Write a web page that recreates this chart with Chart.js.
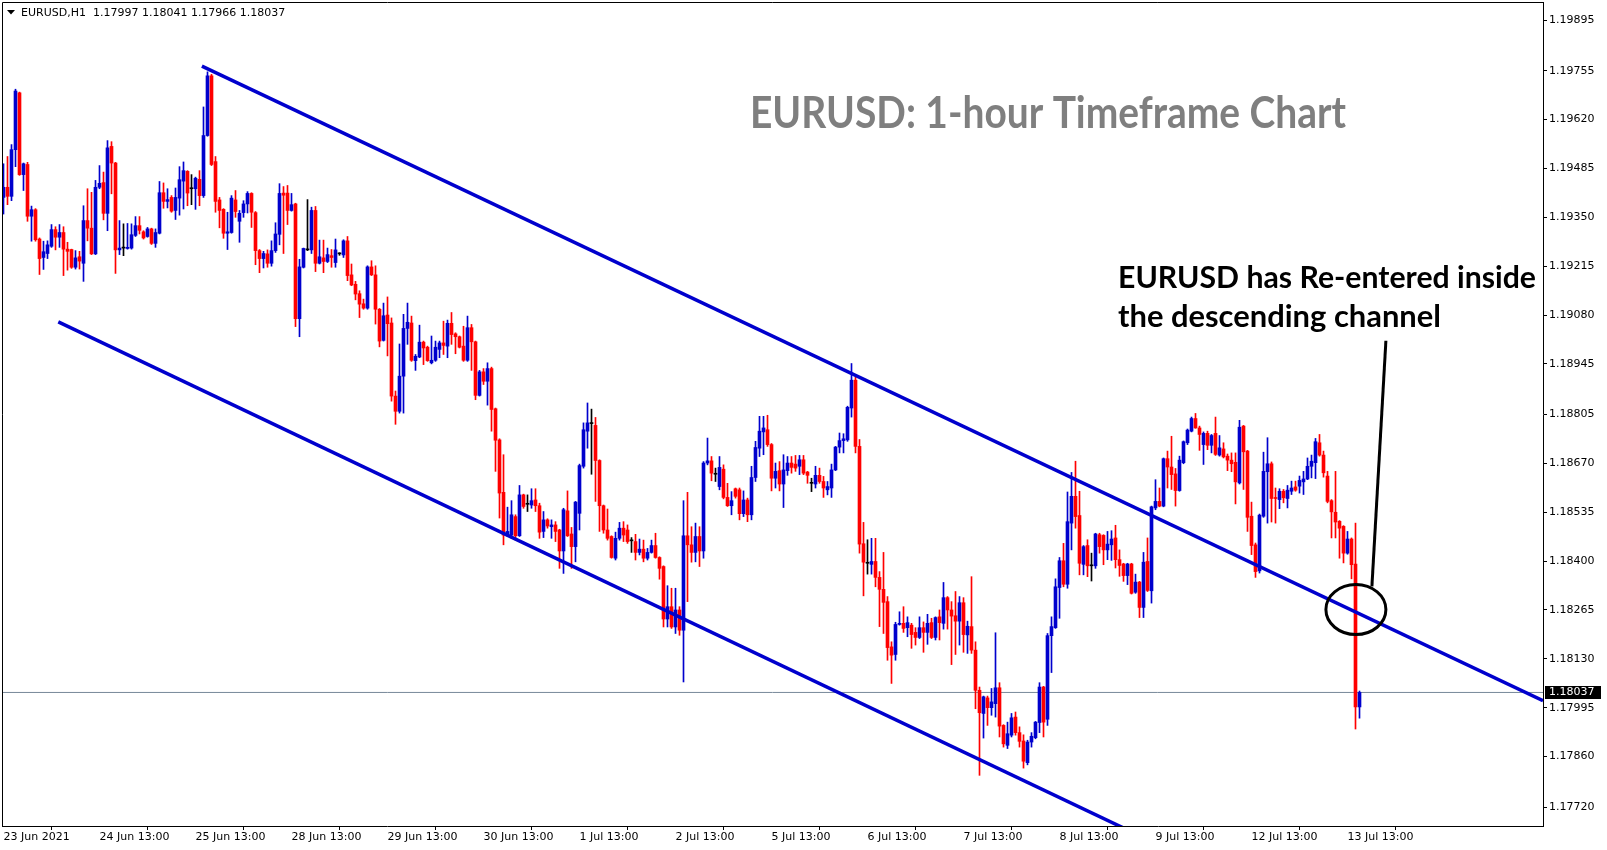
<!DOCTYPE html>
<html>
<head>
<meta charset="utf-8">
<script src="https://cdn.jsdelivr.net/npm/chart.js@4.4.0/dist/chart.umd.min.js"></script>
<style>
  html, body { margin: 0; padding: 0; background: #fff; }
  canvas { display: block; }
</style>
</head>
<body>
<canvas id="chart" width="1607" height="850"></canvas>
<script>
// EURUSD H1, 23 Jun 2021 13:00 .. 13 Jul 2021 16:00 (one bar per hour, weekends skipped)
const symbol = 'EURUSD,H1';
const title = 'EURUSD: 1-hour Timeframe Chart';
const note = ['EURUSD has Re-entered inside', 'the descending channel'];

const xLabels = ['23 Jun 2021', '24 Jun 13:00', '25 Jun 13:00', '28 Jun 13:00', '29 Jun 13:00',
  '30 Jun 13:00', '1 Jul 13:00', '2 Jul 13:00', '5 Jul 13:00', '6 Jul 13:00', '7 Jul 13:00',
  '8 Jul 13:00', '9 Jul 13:00', '12 Jul 13:00', '13 Jul 13:00'];
const barsPerLabel = 24;

const yTicks = [1.19895, 1.19755, 1.19620, 1.19485, 1.19350, 1.19215, 1.19080, 1.18945, 1.18805,
  1.18670, 1.18535, 1.18400, 1.18265, 1.18130, 1.17995, 1.17860, 1.17720];

const opens = [
  1.19405,1.19433,1.19408,1.19537,1.19694,1.19468,1.19496,1.19353,1.19371,1.19290,
  1.19239,1.19250,1.19270,1.19316,1.19295,1.19308,1.19262,1.19261,1.19212,1.19241,
  1.19223,1.19341,1.19320,1.19249,1.19433,1.19446,1.19361,1.19546,1.19500,1.19260,
  1.19265,1.19264,1.19265,1.19300,1.19327,1.19310,1.19297,1.19318,1.19278,1.19306,
  1.19418,1.19394,1.19405,1.19369,1.19403,1.19450,1.19477,1.19429,1.19429,1.19455,
  1.19410,1.19576,1.19741,1.19504,1.19398,1.19372,1.19306,1.19308,1.19398,1.19339,
  1.19363,1.19387,1.19416,1.19363,1.19258,1.19236,1.19249,1.19223,1.19258,1.19303,
  1.19417,1.19417,1.19369,1.19387,1.19070,1.19212,1.19260,1.19260,1.19369,1.19223,
  1.19238,1.19228,1.19244,1.19225,1.19249,1.19246,1.19285,1.19191,1.19165,1.19139,
  1.19111,1.19099,1.19213,1.19191,1.19096,1.19010,1.19080,1.19058,1.18856,1.18814,
  1.18911,1.19043,1.19058,1.18954,1.18964,1.19005,1.18991,1.18948,1.18955,1.18985,
  1.19003,1.18994,1.19057,1.19028,1.19020,1.18994,1.18955,1.19045,1.19006,1.18858,
  1.18923,1.18897,1.18932,1.18821,1.18735,1.18590,1.18472,1.18472,1.18523,1.18470,
  1.18583,1.18557,1.18555,1.18569,1.18553,1.18482,1.18514,1.18495,1.18500,1.18486,
  1.18428,1.18539,1.18475,1.18440,1.18532,1.18662,1.18759,1.18780,1.18775,1.18678,
  1.18553,1.18486,1.18468,1.18408,1.18463,1.18491,1.18486,1.18456,1.18454,1.18424,
  1.18433,1.18408,1.18424,1.18443,1.18410,1.18385,1.18240,1.18274,1.18218,1.18265,
  1.18209,1.18470,1.18445,1.18424,1.18468,1.18428,1.18671,1.18677,1.18640,1.18606,
  1.18654,1.18576,1.18553,1.18600,1.18597,1.18531,1.18569,1.18528,1.18631,1.18712,
  1.18757,1.18763,1.18722,1.18629,1.18650,1.18613,1.18650,1.18671,1.18668,1.18662,
  1.18680,1.18646,1.18615,1.18613,1.18637,1.18620,1.18597,1.18602,1.18652,1.18715,
  1.18733,1.18735,1.18823,1.18900,1.18717,1.18448,1.18394,1.18391,1.18399,1.18355,
  1.18322,1.18288,1.18163,1.18142,1.18225,1.18228,1.18216,1.18223,1.18203,1.18189,
  1.18216,1.18203,1.18230,1.18189,1.18246,1.18228,1.18299,1.18265,1.18249,1.18234,
  1.18285,1.18196,1.18219,1.18154,1.18043,1.17979,1.18022,1.17995,1.18006,1.18050,
  1.17946,1.17891,1.17919,1.17969,1.17926,1.17903,1.17843,1.17900,1.17912,1.17954,
  1.18052,1.17963,1.18194,1.18216,1.18327,1.18401,1.18336,1.18505,1.18579,1.18526,
  1.18391,1.18443,1.18387,1.18387,1.18473,1.18471,1.18431,1.18445,1.18464,1.18404,
  1.18392,1.18360,1.18392,1.18314,1.18342,1.18272,1.18399,1.18318,1.18547,1.18565,
  1.18552,1.18683,1.18660,1.18641,1.18595,1.18672,1.18727,1.18759,1.18794,1.18768,
  1.18722,1.18753,1.18720,1.18753,1.18693,1.18710,1.18690,1.18679,1.18673,1.18616,
  1.18773,1.18704,1.18524,1.18445,1.18373,1.18524,1.18647,1.18669,1.18575,1.18570,
  1.18593,1.18573,1.18593,1.18605,1.18607,1.18619,1.18627,1.18662,1.18672,1.18727,
  1.18693,1.18635,1.18567,1.18535,1.18510,1.18496,1.18422,1.18461,1.18392,1.17997
];
const highs = [
  1.19498,1.19518,1.19551,1.19704,1.19696,1.19500,1.19502,1.19381,1.19374,1.19293,
  1.19284,1.19285,1.19330,1.19324,1.19330,1.19324,1.19281,1.19262,1.19258,1.19256,
  1.19382,1.19429,1.19419,1.19452,1.19493,1.19475,1.19562,1.19559,1.19502,1.19341,
  1.19332,1.19333,1.19332,1.19352,1.19352,1.19313,1.19322,1.19320,1.19318,1.19449,
  1.19445,1.19429,1.19410,1.19431,1.19490,1.19503,1.19479,1.19468,1.19461,1.19479,
  1.19655,1.19752,1.19745,1.19518,1.19405,1.19374,1.19364,1.19410,1.19424,1.19369,
  1.19396,1.19421,1.19418,1.19366,1.19261,1.19256,1.19260,1.19285,1.19335,1.19443,
  1.19435,1.19438,1.19416,1.19389,1.19234,1.19265,1.19399,1.19378,1.19380,1.19287,
  1.19287,1.19265,1.19261,1.19290,1.19252,1.19288,1.19297,1.19221,1.19173,1.19147,
  1.19124,1.19216,1.19230,1.19216,1.19098,1.19113,1.19130,1.19072,1.18870,1.19000,
  1.19082,1.19113,1.19077,1.18971,1.19052,1.19008,1.18994,1.19022,1.19008,1.19008,
  1.19063,1.19066,1.19087,1.19031,1.19022,1.19049,1.19077,1.19054,1.19008,1.18927,
  1.18932,1.18948,1.18936,1.18823,1.18738,1.18694,1.18549,1.18567,1.18528,1.18609,
  1.18585,1.18583,1.18600,1.18600,1.18560,1.18537,1.18517,1.18514,1.18509,1.18488,
  1.18546,1.18594,1.18493,1.18565,1.18668,1.18782,1.18837,1.18820,1.18797,1.18680,
  1.18555,1.18544,1.18470,1.18480,1.18507,1.18509,1.18500,1.18465,1.18474,1.18461,
  1.18458,1.18435,1.18458,1.18477,1.18412,1.18387,1.18332,1.18325,1.18325,1.18274,
  1.18567,1.18590,1.18495,1.18505,1.18495,1.18675,1.18740,1.18689,1.18657,1.18689,
  1.18666,1.18615,1.18592,1.18602,1.18602,1.18594,1.18574,1.18662,1.18731,1.18800,
  1.18800,1.18803,1.18725,1.18671,1.18675,1.18694,1.18689,1.18689,1.18692,1.18692,
  1.18692,1.18648,1.18629,1.18662,1.18657,1.18634,1.18620,1.18668,1.18717,1.18754,
  1.18752,1.18828,1.18946,1.18908,1.18736,1.18507,1.18459,1.18463,1.18463,1.18371,
  1.18424,1.18302,1.18177,1.18231,1.18260,1.18274,1.18246,1.18228,1.18216,1.18246,
  1.18232,1.18253,1.18242,1.18246,1.18265,1.18341,1.18302,1.18288,1.18316,1.18302,
  1.18299,1.18234,1.18357,1.18177,1.18052,1.18027,1.18027,1.18048,1.18202,1.18064,
  1.17948,1.17955,1.17979,1.17983,1.17942,1.17920,1.17905,1.17926,1.17957,1.18064,
  1.18054,1.18200,1.18246,1.18351,1.18410,1.18449,1.18591,1.18645,1.18676,1.18593,
  1.18443,1.18459,1.18422,1.18477,1.18477,1.18473,1.18482,1.18484,1.18499,1.18431,
  1.18394,1.18394,1.18394,1.18364,1.18344,1.18424,1.18464,1.18552,1.18625,1.18602,
  1.18685,1.18704,1.18745,1.18656,1.18690,1.18732,1.18765,1.18798,1.18808,1.18773,
  1.18757,1.18759,1.18750,1.18798,1.18747,1.18727,1.18696,1.18699,1.18699,1.18789,
  1.18775,1.18706,1.18563,1.18450,1.18530,1.18701,1.18741,1.18674,1.18602,1.18600,
  1.18598,1.18609,1.18621,1.18621,1.18635,1.18648,1.18685,1.18693,1.18739,1.18750,
  1.18704,1.18648,1.18570,1.18648,1.18512,1.18498,1.18482,1.18464,1.18505,1.18041
];
const lows = [
  1.19359,1.19385,1.19396,1.19490,1.19466,1.19424,1.19339,1.19284,1.19284,1.19192,
  1.19206,1.19236,1.19267,1.19260,1.19267,1.19189,1.19204,1.19209,1.19207,1.19207,
  1.19173,1.19285,1.19247,1.19247,1.19429,1.19343,1.19313,1.19415,1.19195,1.19247,
  1.19244,1.19262,1.19262,1.19297,1.19304,1.19290,1.19295,1.19275,1.19267,1.19304,
  1.19375,1.19376,1.19364,1.19344,1.19356,1.19373,1.19382,1.19385,1.19372,1.19382,
  1.19405,1.19574,1.19493,1.19364,1.19321,1.19292,1.19261,1.19306,1.19350,1.19281,
  1.19350,1.19362,1.19322,1.19219,1.19197,1.19210,1.19212,1.19215,1.19253,1.19274,
  1.19250,1.19330,1.19367,1.19048,1.19020,1.19210,1.19258,1.19250,1.19200,1.19221,
  1.19197,1.19225,1.19212,1.19212,1.19245,1.19239,1.19175,1.19161,1.19122,1.19073,
  1.19096,1.19096,1.19189,1.19055,1.18992,1.19008,1.18967,1.18842,1.18778,1.18809,
  1.18809,1.18999,1.18952,1.18927,1.18962,1.18943,1.18952,1.18945,1.18952,1.18962,
  1.18971,1.18962,1.18999,1.18973,1.18989,1.18952,1.18952,1.18927,1.18846,1.18856,
  1.18888,1.18831,1.18759,1.18648,1.18519,1.18445,1.18468,1.18463,1.18458,1.18468,
  1.18546,1.18537,1.18546,1.18537,1.18463,1.18465,1.18491,1.18463,1.18454,1.18380,
  1.18366,1.18468,1.18380,1.18398,1.18486,1.18657,1.18712,1.18640,1.18565,1.18482,
  1.18477,1.18458,1.18408,1.18403,1.18458,1.18454,1.18449,1.18424,1.18403,1.18417,
  1.18398,1.18403,1.18422,1.18408,1.18350,1.18218,1.18218,1.18214,1.18200,1.18195,
  1.18066,1.18288,1.18397,1.18398,1.18385,1.18408,1.18666,1.18622,1.18620,1.18597,
  1.18572,1.18551,1.18528,1.18574,1.18514,1.18523,1.18509,1.18514,1.18620,1.18689,
  1.18694,1.18717,1.18594,1.18602,1.18594,1.18548,1.18637,1.18643,1.18648,1.18639,
  1.18639,1.18615,1.18592,1.18602,1.18615,1.18576,1.18583,1.18576,1.18650,1.18699,
  1.18699,1.18731,1.18798,1.18699,1.18422,1.18304,1.18364,1.18364,1.18329,1.18219,
  1.18200,1.18126,1.18062,1.18126,1.18223,1.18203,1.18191,1.18159,1.18168,1.18186,
  1.18148,1.18170,1.18186,1.18182,1.18182,1.18212,1.18212,1.18114,1.18142,1.18168,
  1.18148,1.18145,1.18145,1.17992,1.17808,1.17911,1.17946,1.17974,1.17969,1.17914,
  1.17886,1.17882,1.17914,1.17919,1.17886,1.17828,1.17837,1.17886,1.17909,1.17926,
  1.17914,1.17946,1.18092,1.18214,1.18242,1.18329,1.18325,1.18431,1.18491,1.18362,
  1.18362,1.18357,1.18345,1.18380,1.18422,1.18390,1.18404,1.18402,1.18381,1.18358,
  1.18344,1.18335,1.18309,1.18311,1.18244,1.18244,1.18316,1.18284,1.18542,1.18550,
  1.18550,1.18602,1.18598,1.18552,1.18593,1.18669,1.18722,1.18757,1.18767,1.18706,
  1.18667,1.18708,1.18699,1.18692,1.18690,1.18685,1.18650,1.18647,1.18558,1.18613,
  1.18598,1.18482,1.18418,1.18355,1.18367,1.18521,1.18505,1.18508,1.18505,1.18545,
  1.18561,1.18547,1.18584,1.18593,1.18588,1.18584,1.18625,1.18630,1.18628,1.18690,
  1.18632,1.18561,1.18464,1.18464,1.18408,1.18395,1.18419,1.18351,1.17936,1.17966
];
const closes = [
  1.19433,1.19408,1.19537,1.19699,1.19468,1.19498,1.19353,1.19371,1.19288,1.19236,
  1.19255,1.19274,1.19316,1.19295,1.19308,1.19262,1.19256,1.19212,1.19238,1.19229,
  1.19341,1.19320,1.19249,1.19433,1.19444,1.19361,1.19542,1.19500,1.19260,1.19265,
  1.19265,1.19267,1.19302,1.19327,1.19314,1.19293,1.19318,1.19278,1.19308,1.19418,
  1.19394,1.19399,1.19367,1.19405,1.19454,1.19479,1.19417,1.19429,1.19458,1.19410,
  1.19576,1.19741,1.19496,1.19394,1.19369,1.19306,1.19310,1.19403,1.19366,1.19361,
  1.19387,1.19416,1.19364,1.19258,1.19236,1.19250,1.19223,1.19258,1.19304,1.19416,
  1.19411,1.19369,1.19385,1.19070,1.19213,1.19264,1.19260,1.19369,1.19223,1.19241,
  1.19228,1.19247,1.19239,1.19260,1.19249,1.19285,1.19189,1.19163,1.19138,1.19110,
  1.19099,1.19213,1.19191,1.19096,1.19008,1.19078,1.19056,1.18856,1.18814,1.18911,
  1.19043,1.19060,1.18955,1.18966,1.19005,1.18989,1.18954,1.18955,1.18991,1.19003,
  1.18996,1.19057,1.19026,1.19020,1.18991,1.18955,1.19045,1.19006,1.18858,1.18923,
  1.18897,1.18932,1.18819,1.18734,1.18588,1.18472,1.18482,1.18528,1.18470,1.18583,
  1.18551,1.18557,1.18567,1.18553,1.18480,1.18514,1.18497,1.18500,1.18482,1.18428,
  1.18542,1.18470,1.18440,1.18563,1.18664,1.18763,1.18782,1.18780,1.18678,1.18553,
  1.18486,1.18463,1.18410,1.18463,1.18491,1.18472,1.18454,1.18456,1.18424,1.18433,
  1.18408,1.18424,1.18443,1.18410,1.18380,1.18240,1.18274,1.18218,1.18265,1.18209,
  1.18470,1.18445,1.18424,1.18468,1.18428,1.18671,1.18677,1.18643,1.18640,1.18659,
  1.18576,1.18553,1.18567,1.18579,1.18531,1.18569,1.18528,1.18631,1.18714,1.18759,
  1.18768,1.18722,1.18629,1.18648,1.18613,1.18652,1.18671,1.18659,1.18657,1.18680,
  1.18643,1.18637,1.18615,1.18637,1.18620,1.18602,1.18606,1.18652,1.18715,1.18733,
  1.18738,1.18825,1.18900,1.18717,1.18447,1.18397,1.18394,1.18399,1.18355,1.18322,
  1.18286,1.18161,1.18140,1.18225,1.18228,1.18214,1.18230,1.18197,1.18189,1.18216,
  1.18203,1.18228,1.18189,1.18244,1.18230,1.18299,1.18265,1.18248,1.18234,1.18285,
  1.18197,1.18220,1.18154,1.18043,1.17981,1.18025,1.17995,1.18011,1.18050,1.17944,
  1.17895,1.17923,1.17967,1.17926,1.17902,1.17847,1.17900,1.17916,1.17955,1.18052,
  1.17955,1.18194,1.18219,1.18329,1.18401,1.18336,1.18509,1.18579,1.18523,1.18394,
  1.18440,1.18387,1.18387,1.18475,1.18440,1.18431,1.18447,1.18461,1.18404,1.18388,
  1.18360,1.18392,1.18311,1.18342,1.18272,1.18397,1.18319,1.18550,1.18565,1.18552,
  1.18683,1.18660,1.18639,1.18595,1.18679,1.18730,1.18762,1.18794,1.18768,1.18750,
  1.18753,1.18720,1.18747,1.18695,1.18713,1.18688,1.18679,1.18669,1.18619,1.18770,
  1.18702,1.18521,1.18443,1.18371,1.18527,1.18648,1.18669,1.18573,1.18573,1.18593,
  1.18575,1.18596,1.18602,1.18596,1.18623,1.18627,1.18662,1.18676,1.18730,1.18693,
  1.18644,1.18565,1.18536,1.18508,1.18491,1.18422,1.18461,1.18390,1.17997,1.18037
];

// hand-drawn objects, in (bar index, price)
const upperChannel = [[49.6, 1.19768], [384.875, 1.18014]];
const lowerChannel = [[13.7, 1.19061], [280.1, 1.17662]];
const arrowLine = [[345.6, 1.19009], [342.1, 1.18330]];
const circleAt = [338.1, 1.18266];

const blue = '#0000cd', red = '#ff0000';
const last = closes.length - 1;

function candleColor(i) {
  if (closes[i] > opens[i]) return blue;
  if (closes[i] < opens[i]) return red;
  return '#000';
}

function fitText(ctx, text, x, baseline, width, size, color) {
  ctx.save();
  ctx.font = 'bold ' + size + 'px Lato';
  const w = ctx.measureText(text).width;
  ctx.translate(x, baseline);
  ctx.scale(width / w, 1);
  ctx.fillStyle = color;
  ctx.textBaseline = 'alphabetic';
  ctx.textAlign = 'left';
  ctx.fillText(text, 0, 0);
  ctx.restore();
}

const overlay = {
  id: 'overlay',
  afterDatasetsDraw(chart) {
    const {ctx, scales: {x, y}} = chart;
    ctx.save();
    ctx.strokeStyle = '#000';
    ctx.lineWidth = 3;
    ctx.beginPath();
    ctx.ellipse(x.getPixelForValue(circleAt[0]), y.getPixelForValue(circleAt[1]), 30, 25, 0, 0, Math.PI * 2);
    ctx.stroke();
    ctx.restore();
  },
  afterDraw(chart) {
    const {ctx, chartArea: a, scales: {y}} = chart;
    ctx.save();
    // frame, left and top
    ctx.strokeStyle = '#000';
    ctx.lineWidth = 1;
    ctx.beginPath();
    ctx.moveTo(a.left + 0.5, a.bottom);
    ctx.lineTo(a.left + 0.5, a.top + 0.5);
    ctx.lineTo(a.right, a.top + 0.5);
    ctx.stroke();

    // header line
    ctx.fillStyle = '#000';
    ctx.beginPath();
    ctx.moveTo(7, 10); ctx.lineTo(15, 10); ctx.lineTo(11, 14.5); ctx.closePath();
    ctx.fill();
    ctx.font = '11px "DejaVu Sans"';
    ctx.textBaseline = 'alphabetic';
    const ohlc = [opens[last], highs[last], lows[last], closes[last]].map(v => v.toFixed(5)).join(' ');
    ctx.fillText(symbol + '  ' + ohlc, 21, 16);

    // last price box
    const py = Math.round(y.getPixelForValue(closes[last]));
    ctx.fillStyle = '#000';
    ctx.fillRect(a.right + 2, py - 6, 56, 13);
    ctx.fillStyle = '#fff';
    ctx.textBaseline = 'middle';
    ctx.fillText(closes[last].toFixed(5), a.right + 6, py + 0.5);
    ctx.restore();

    fitText(ctx, title, 750, 128, 596, 44, '#7f7f7f');
    fitText(ctx, note[0], 1118, 288, 418, 31, '#000');
    fitText(ctx, note[1], 1118, 327, 323, 31, '#000');
  }
};

const xMin = -0.375, xMax = 384.875;

new Chart(document.getElementById('chart'), {
  type: 'bar',
  data: {
    datasets: [
      {
        type: 'line', order: 0,
        data: upperChannel.map(p => ({x: p[0], y: p[1]})),
        borderColor: blue, borderWidth: 3.5, pointRadius: 0
      },
      {
        type: 'line', order: 0,
        data: lowerChannel.map(p => ({x: p[0], y: p[1]})),
        borderColor: blue, borderWidth: 3.5, pointRadius: 0
      },
      {
        type: 'line', order: 0,
        data: arrowLine.map(p => ({x: p[0], y: p[1]})),
        borderColor: '#000', borderWidth: 3, pointRadius: 0
      },
      {
        label: 'body', order: 1, grouped: false,
        data: opens.map((o, i) => ({x: i, y: [o, closes[i]]})),
        backgroundColor: c => candleColor(c.dataIndex),
        barThickness: 3, minBarLength: 1, borderWidth: 0
      },
      {
        label: 'wick', order: 2, grouped: false,
        data: lows.map((l, i) => ({x: i, y: [l, highs[i]]})),
        backgroundColor: c => candleColor(c.dataIndex),
        barThickness: 1, borderWidth: 0
      },
      {
        type: 'line', order: 3,
        data: [{x: xMin, y: closes[last]}, {x: xMax, y: closes[last]}],
        borderColor: '#778899', borderWidth: 1, pointRadius: 0
      }
    ]
  },
  options: {
    responsive: false,
    animation: false,
    devicePixelRatio: 1,
    layout: {padding: {left: 2, top: 2, right: 0, bottom: 0}},
    plugins: {legend: {display: false}, tooltip: {enabled: false}},
    scales: {
      x: {
        type: 'linear', position: 'bottom', min: xMin, max: xMax, offset: false,
        grid: {display: true, drawOnChartArea: false, drawTicks: true, tickLength: 4, color: '#000'},
        border: {display: true, color: '#000', width: 1},
        ticks: {
          autoSkip: false, maxRotation: 0, align: 'start', padding: 1, color: '#000',
          font: {family: 'DejaVu Sans', size: 11},
          callback: v => xLabels[Math.round(v / barsPerLabel)]
        },
        afterBuildTicks: s => { s.ticks = xLabels.map((_, k) => ({value: k * barsPerLabel})); },
        afterFit: s => { s.height = 24; s.paddingLeft = 0; s.paddingRight = 0; }
      },
      y: {
        type: 'linear', position: 'right', min: 1.17668, max: 1.19945,
        grid: {display: true, drawOnChartArea: false, drawTicks: true, tickLength: 4, color: '#000'},
        border: {display: true, color: '#000', width: 1},
        ticks: {
          padding: 2, color: '#000', font: {family: 'DejaVu Sans', size: 11},
          callback: v => v.toFixed(5)
        },
        afterBuildTicks: s => { s.ticks = yTicks.map(v => ({value: v})); },
        afterFit: s => { s.width = 64; s.paddingTop = 0; s.paddingBottom = 0; }
      }
    }
  },
  plugins: [overlay]
});
</script>
</body>
</html>
